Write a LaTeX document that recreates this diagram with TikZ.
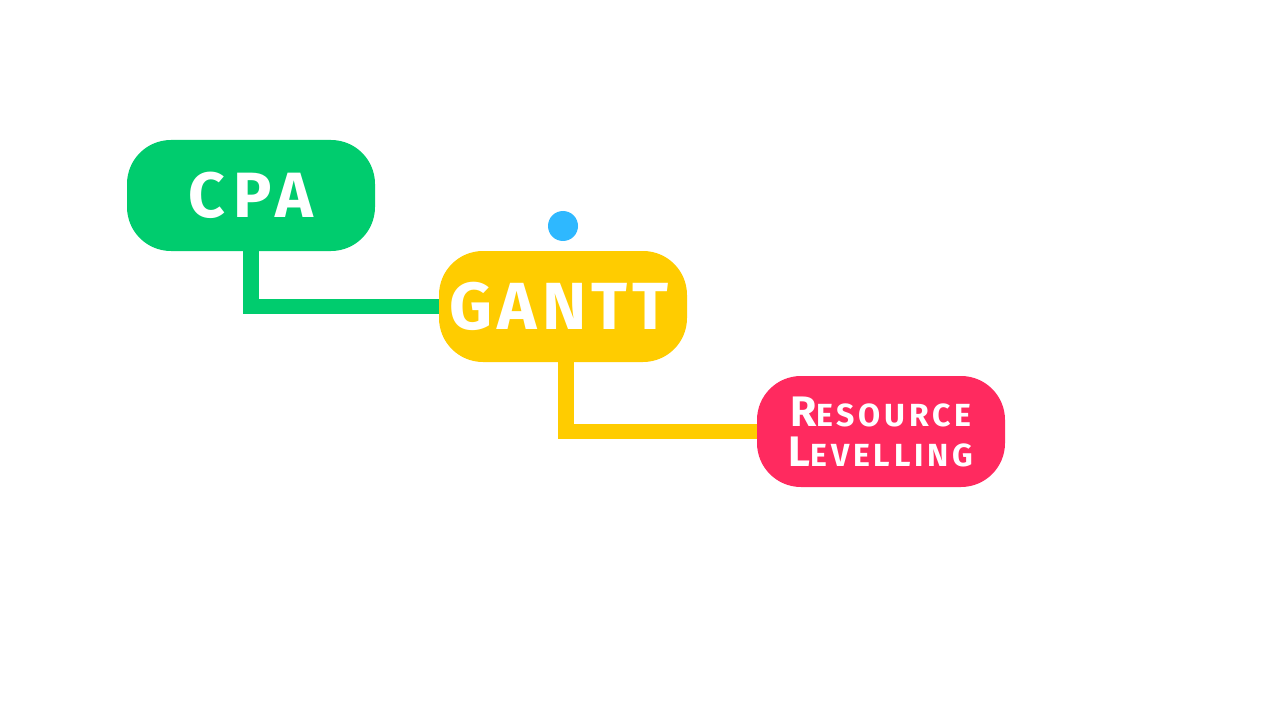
\documentclass[tikz,border=0pt]{standalone}
\usepackage{fontspec}
\newfontfamily\dispfont[LetterSpace=8]{Fira Sans}
\newfontfamily\dispfontwide[LetterSpace=12]{Fira Sans}
\definecolor{cgreen}{RGB}{0,204,110}
\definecolor{cyellow}{RGB}{255,204,0}
\definecolor{cred}{RGB}{255,42,95}
\definecolor{cblue}{RGB}{46,184,255}
\tikzset{
  topic/.style={rounded corners=33pt, minimum width=186pt, minimum height=83.25pt,
    inner sep=0pt, text=white, font=\dispfont\bfseries, align=center},
  link/.style={line width=11.5pt, line join=miter},
}
\begin{document}
\begin{tikzpicture}[x=0.75pt,y=-0.75pt]
\useasboundingbox[fill=white] (0,0) rectangle (1280,720);
\node[topic, fill=cgreen, font=\dispfontwide\bfseries\fontsize{48}{50}\selectfont] (cpa) at (251,195.5) {CPA};
\node[topic, fill=cyellow, font=\dispfont\bfseries\fontsize{50}{52}\selectfont] (gantt) at (563,306.5) {GANTT\kern6pt};
\node[topic, fill=cred, font=\dispfontwide\bfseries\fontsize{32}{34}\selectfont] (res) at (881,431.5)
  {R{\fontsize{24}{24}\selectfont ESOURCE}\\[-4pt]L{\fontsize{24}{24}\selectfont EVELLING}};
\node[circle, fill=cblue, minimum size=22.5pt, inner sep=0pt] (dot) at (563,226) {};
\draw[link, cgreen] (cpa.south) |- (gantt.west);
\draw[link, cyellow] ([xshift=2.25pt]gantt.south) |- (res.west);
\end{tikzpicture}
\end{document}
